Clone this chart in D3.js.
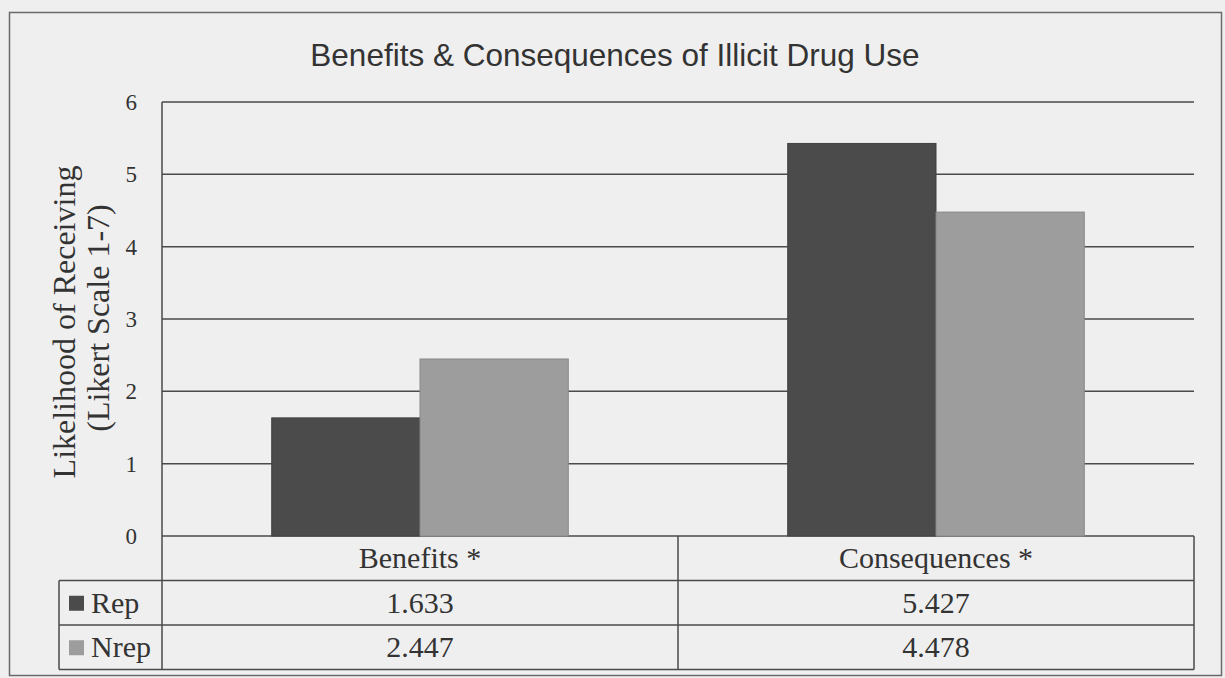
<!DOCTYPE html>
<html>
<head>
<meta charset="utf-8">
<script src="https://cdn.jsdelivr.net/npm/d3@7"></script>
<style>
  body { margin: 0; background: #efefef; }
  .chart-canvas svg { display: block; }
</style>
</head>
<body>
<div class="chart-canvas"></div>
<script>
var categories = ["Benefits *", "Consequences *"];
var seriesNames = ["Rep", "Nrep"];
var repValues = [1.633, 5.427];
var nrepValues = [2.447, 4.478];
var yTicks = [0, 1, 2, 3, 4, 5, 6];

var width = 1225;
var height = 678;
var plotLeft = 162;
var plotRight = 1194;
var plotTop = 102;
var plotBottom = 536;
var rowH = 44.5;
var legendLeft = 59;

var colors = { Rep: "#4b4b4b", Nrep: "#9d9d9d" };
var lineColor = "#4a4a4a";
var serif = "'Liberation Serif', 'Times New Roman', serif";

var data = categories.map(function (c, i) {
  return { category: c, Rep: repValues[i], Nrep: nrepValues[i] };
});

var svg = d3.select(".chart-canvas")
  .append("svg")
  .attr("width", width)
  .attr("height", height)
  .attr("viewBox", [0, 0, width, height]);

svg.append("rect")
  .attr("width", width)
  .attr("height", height)
  .attr("fill", "#efefef");

// outer frame
svg.append("rect")
  .attr("x", 9.5)
  .attr("y", 12.5)
  .attr("width", 1212)
  .attr("height", 663)
  .attr("fill", "none")
  .attr("stroke", "#6a6a6a")
  .attr("stroke-width", 1.5);

svg.append("text")
  .attr("x", 615)
  .attr("y", 66)
  .attr("text-anchor", "middle")
  .attr("font-family", "'Liberation Sans', Arial, sans-serif")
  .attr("font-size", 31.5)
  .attr("fill", "#333")
  .text("Benefits & Consequences of Illicit Drug Use");

var x0 = d3.scaleBand()
  .domain(categories)
  .range([plotLeft, plotRight])
  .padding(0);

var x1 = d3.scaleBand()
  .domain(seriesNames)
  .range([0, x0.bandwidth()])
  .paddingInner(0)
  .paddingOuter(0.74);

var y = d3.scaleLinear()
  .domain([0, 6])
  .range([plotBottom, plotTop]);

// gridlines
svg.append("g")
  .selectAll("line")
  .data(yTicks)
  .enter()
  .append("line")
  .attr("x1", plotLeft)
  .attr("x2", plotRight)
  .attr("y1", function (d) { return y(d); })
  .attr("y2", function (d) { return y(d); })
  .attr("stroke", lineColor)
  .attr("stroke-width", 1.5);

// y axis
var yAxis = function (g) {
  g.attr("transform", "translate(" + plotLeft + ",0)")
    .call(d3.axisLeft(y).tickValues(yTicks).tickSize(0).tickPadding(25).tickFormat(d3.format("d")));
  g.select(".domain").remove();
  g.selectAll("text")
    .attr("font-family", serif)
    .attr("font-size", 23)
    .attr("fill", "#333");
};
svg.append("g").call(yAxis);

// bars
var groups = svg.append("g")
  .selectAll("g")
  .data(data)
  .enter()
  .append("g")
  .attr("transform", function (d) { return "translate(" + x0(d.category) + ",0)"; });

groups.selectAll("rect")
  .data(function (d) { return seriesNames.map(function (s) { return { key: s, value: d[s] }; }); })
  .enter()
  .append("rect")
  .attr("x", function (d) { return x1(d.key); })
  .attr("y", function (d) { return y(d.value); })
  .attr("width", x1.bandwidth())
  .attr("height", function (d) { return y(0) - y(d.value); })
  .attr("fill", function (d) { return colors[d.key]; })
  .attr("stroke", function (d) { return d3.color(colors[d.key]).darker(0.4); })
  .attr("stroke-width", 1);

// y title
var yTitle = svg.append("g")
  .attr("font-family", serif)
  .attr("font-size", 32)
  .attr("fill", "#333")
  .attr("text-anchor", "middle");

yTitle.append("text")
  .attr("transform", "translate(75,322) rotate(-90)")
  .text("Likelihood of Receiving");

yTitle.append("text")
  .attr("transform", "translate(109,318) rotate(-90)")
  .text("(Likert Scale 1-7)");

// data table
var table = svg.append("g")
  .attr("stroke", lineColor)
  .attr("stroke-width", 1.5)
  .attr("fill", "none");

var rowY = [plotBottom, plotBottom + rowH, plotBottom + 2 * rowH, plotBottom + 3 * rowH];

table.append("line")
  .attr("x1", plotLeft).attr("x2", plotLeft)
  .attr("y1", plotTop).attr("y2", rowY[3]);

table.selectAll("line.h")
  .data(rowY.slice(1))
  .enter()
  .append("line")
  .attr("x1", legendLeft)
  .attr("x2", plotRight)
  .attr("y1", function (d) { return d; })
  .attr("y2", function (d) { return d; });

table.selectAll("line.v")
  .data(categories.map(function (c) { return x0(c) + x0.bandwidth(); }))
  .enter()
  .append("line")
  .attr("x1", function (d) { return d; })
  .attr("x2", function (d) { return d; })
  .attr("y1", rowY[0])
  .attr("y2", rowY[3]);

table.append("line")
  .attr("x1", legendLeft).attr("x2", legendLeft)
  .attr("y1", rowY[1]).attr("y2", rowY[3]);

var cellText = svg.append("g")
  .attr("font-family", serif)
  .attr("font-size", 30)
  .attr("fill", "#333")
  .attr("text-anchor", "middle");

cellText.selectAll("text.cat")
  .data(categories)
  .enter()
  .append("text")
  .attr("x", function (d) { return x0(d) + x0.bandwidth() / 2; })
  .attr("y", rowY[0] + rowH / 2 + 10)
  .text(function (d) { return d; });

var rows = [repValues, nrepValues];
rows.forEach(function (vals, r) {
  cellText.selectAll("text.v" + r)
    .data(vals)
    .enter()
    .append("text")
    .attr("x", function (d, i) { return x0(categories[i]) + x0.bandwidth() / 2; })
    .attr("y", rowY[r + 1] + rowH / 2 + 10)
    .text(function (d) { return d3.format(".3f")(d); });

  svg.append("rect")
    .attr("x", 69)
    .attr("y", rowY[r + 1] + rowH / 2 - 7)
    .attr("width", 15)
    .attr("height", 15)
    .attr("fill", colors[seriesNames[r]]);

  svg.append("text")
    .attr("x", 91)
    .attr("y", rowY[r + 1] + rowH / 2 + 10)
    .attr("font-family", serif)
    .attr("font-size", 30)
    .attr("fill", "#333")
    .text(seriesNames[r]);
});
</script>
</body>
</html>
